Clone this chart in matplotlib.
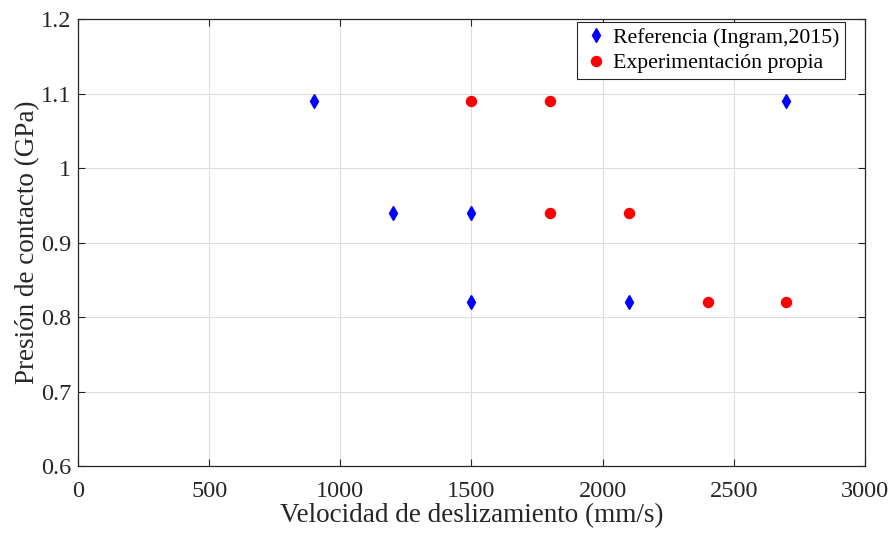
import matplotlib
matplotlib.use("Agg")
import matplotlib.pyplot as plt

plt.rcParams['font.family'] = ['Liberation Serif', 'DejaVu Serif']

ref_x = [900, 1200, 1500, 1500, 2100, 2700]
ref_y = [1.09, 0.94, 0.94, 0.82, 0.82, 1.09]
exp_x = [1500, 1800, 1800, 2100, 2400, 2700]
exp_y = [1.09, 1.09, 0.94, 0.94, 0.82, 0.82]
xticks = [0, 500, 1000, 1500, 2000, 2500, 3000]
yticks = [0.6, 0.7, 0.8, 0.9, 1.0, 1.1, 1.2]
ytick_labels = ['0.6', '0.7', '0.8', '0.9', '1', '1.1', '1.2']

fig = plt.figure(figsize=(8.92, 5.34), dpi=100)
ax = fig.add_axes([0.0874, 0.1273, 0.9697 - 0.0874, 0.9644 - 0.1273])

ax.plot(ref_x, ref_y, linestyle='none', marker='d', markersize=7.6, color='#0000ff',
        label='Referencia (Ingram,2015)')
ax.plot(exp_x, exp_y, linestyle='none', marker='o', markersize=7.2, color='#ff0000',
        label='Experimentación propia')

ax.set_xlim(0, 3000)
ax.set_ylim(0.6, 1.2)
ax.set_xticks(xticks)
ax.set_yticks(yticks)
ax.set_yticklabels(ytick_labels)
ax.grid(True, color='#dedede', linewidth=0.8)
ax.set_axisbelow(True)
ax.tick_params(direction='in', labelsize=17.5, length=5, top=True, right=True,
               color='#262626', labelcolor='#262626')
ax.tick_params(axis='x', pad=10.5)
ax.tick_params(axis='y', pad=5)
for s in ax.spines.values():
    s.set_color('#262626')
    s.set_linewidth(0.9)
ax.set_xlabel('Velocidad de deslizamiento (mm/s)', fontsize=19.5, labelpad=1, color='#262626')
ax.set_ylabel('Presión de contacto (GPa)', fontsize=19.5, labelpad=0, color='#262626')

leg = ax.legend(loc='upper right', bbox_to_anchor=(845 / 892, (534 - 22) / 534),
                bbox_transform=fig.transFigure, borderaxespad=0,
                fontsize=15.7, frameon=True, fancybox=False,
                edgecolor='#262626', handletextpad=0.2,
                borderpad=0.25, labelspacing=0.25, handlelength=1.2,
                framealpha=1)
leg.get_frame().set_linewidth(0.8)
for t in leg.get_texts():
    t.set_color('#000000')

fig.savefig('out.png', dpi=100)
